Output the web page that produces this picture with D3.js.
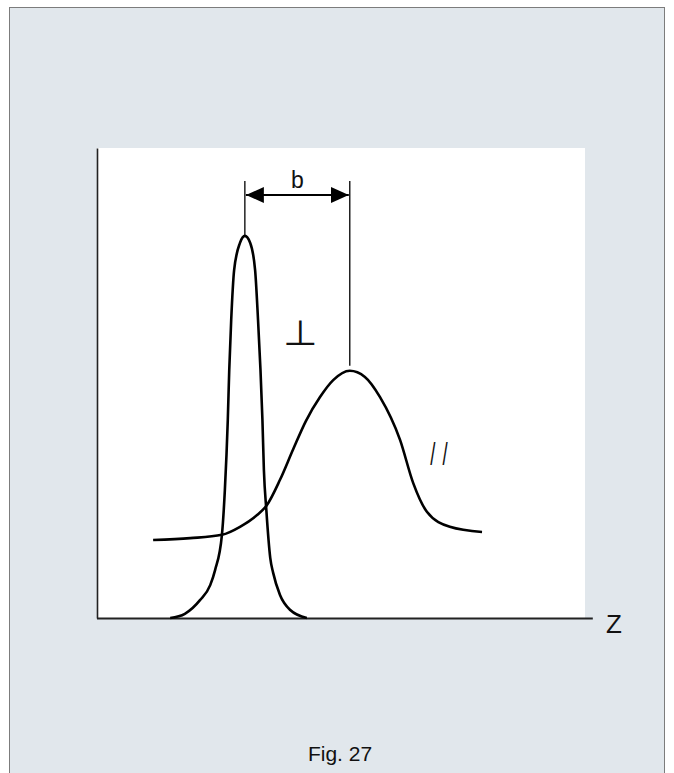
<!DOCTYPE html>
<html>
<head>
<meta charset="utf-8">
<script src="https://cdn.jsdelivr.net/npm/d3@7"></script>
<style>
  body { margin: 0; background: #fff; }
  svg { display: block; }
</style>
</head>
<body>
<div id="chart"></div>
<script>
// curve for the perpendicular orientation (narrow peak), [z, intensity]
const perpCurve = [
  [15.0, 0], [18.0, 0.9], [21.1, 3.8], [23.2, 7.0], [24.2, 10.2], [25.6, 17.7],
  [26.2, 27.2], [26.8, 42.1], [27.1, 52.8], [27.5, 63.4], [28.1, 74.0], [29.3, 79.8],
  [30.3, 81.3], [31.4, 79.8], [32.4, 74.0], [33.0, 63.4], [33.5, 52.8], [33.9, 42.1],
  [34.2, 31.5], [34.7, 23.0], [35.5, 12.8], [36.1, 9.6], [37.5, 4.9], [39.6, 1.7], [43.0, 0],
];

// curve for the parallel orientation (broad peak)
const paraCurve = [
  [11.5, 16.6], [19.1, 17.0], [25.6, 17.7], [29.3, 19.4], [32.8, 21.9], [34.8, 24.0],
  [37.5, 29.4], [40.2, 35.9], [42.8, 41.9], [45.7, 47.0], [48.4, 50.6], [51.8, 52.6],
  [54.9, 51.3], [58.0, 47.0], [62.1, 37.9], [64.8, 28.7], [67.6, 22.6], [72.3, 19.4],
  [78.9, 18.3],
];

const curveLabels = ['⊥', '//'];
const axisLabel = 'Z';
const spacingLabel = 'b';
const caption = 'Fig. 27';

const width = 674;
const height = 773;
const plot = { left: 97, right: 585, top: 148, bottom: 618 };

const svg = d3.select('#chart').append('svg')
  .attr('width', width)
  .attr('height', height)
  .style('font-family', 'Arial, "Liberation Sans", sans-serif');

// grey figure frame
svg.append('rect')
  .attr('x', 9.5).attr('y', 7.5)
  .attr('width', 655).attr('height', 800)
  .attr('fill', '#e1e7ec')
  .attr('stroke', '#7c7c7c');

svg.append('rect')
  .attr('x', plot.left).attr('y', plot.top)
  .attr('width', plot.right - plot.left).attr('height', plot.bottom - plot.top)
  .attr('fill', '#fff');

const x = d3.scaleLinear().domain([0, 100]).range([plot.left, plot.right]);
const y = d3.scaleLinear().domain([0, 100]).range([plot.bottom, plot.top]);

const line = d3.line()
  .x((d) => x(d[0]))
  .y((d) => y(d[1]))
  .curve(d3.curveMonotoneX);

// axes (plain lines, no ticks)
const xAxis = d3.axisBottom(x).tickValues([]).tickSizeOuter(0);
const yAxis = d3.axisLeft(y).tickValues([]).tickSizeOuter(0);
svg.append('g')
  .attr('transform', `translate(0,${y(0)})`)
  .call(xAxis)
  .select('.domain')
  .attr('d', `M${x(0)},0.5H${x(101.6)}`)
  .attr('stroke', '#222')
  .attr('stroke-width', 2.2);
svg.append('g')
  .attr('transform', `translate(${x(0)},0)`)
  .call(yAxis)
  .select('.domain')
  .attr('stroke', '#222')
  .attr('stroke-width', 1.6);

svg.append('text')
  .attr('x', x(104.3)).attr('y', y(-3.2))
  .attr('font-size', 26)
  .attr('fill', '#111')
  .text(axisLabel);

[perpCurve, paraCurve].forEach((c) => {
  svg.append('path')
    .datum(c)
    .attr('d', line)
    .attr('fill', 'none')
    .attr('stroke', '#000')
    .attr('stroke-width', 2.6);
});

// spacing b between the two peaks
const peak1 = perpCurve.reduce((a, b) => (b[1] > a[1] ? b : a));
const peak2 = paraCurve.reduce((a, b) => (b[1] > a[1] ? b : a));
const dimTop = 93;
const dimY = 90;

svg.append('defs').append('marker')
  .attr('id', 'arr')
  .attr('viewBox', '0 0 18 16')
  .attr('refX', 18).attr('refY', 8)
  .attr('markerWidth', 18).attr('markerHeight', 16)
  .attr('markerUnits', 'userSpaceOnUse')
  .attr('orient', 'auto-start-reverse')
  .append('path')
  .attr('d', 'M0,0L18,8L0,16Z')
  .attr('fill', '#000');

svg.append('line')
  .attr('x1', x(peak1[0])).attr('x2', x(peak1[0]))
  .attr('y1', y(dimTop)).attr('y2', y(peak1[1]))
  .attr('stroke', '#000').attr('stroke-width', 1.3);
svg.append('line')
  .attr('x1', x(peak2[0])).attr('x2', x(peak2[0]))
  .attr('y1', y(dimTop)).attr('y2', y(peak2[1]) - 5)
  .attr('stroke', '#000').attr('stroke-width', 1.3);
svg.append('line')
  .attr('x1', x(peak1[0]) + 1).attr('x2', x(peak2[0]) - 1)
  .attr('y1', y(dimY)).attr('y2', y(dimY))
  .attr('stroke', '#000').attr('stroke-width', 2)
  .attr('marker-start', 'url(#arr)')
  .attr('marker-end', 'url(#arr)');

svg.append('text')
  .attr('x', (x(peak1[0]) + x(peak2[0])) / 2).attr('y', y(dimY) - 7)
  .attr('text-anchor', 'middle')
  .attr('font-size', 23)
  .attr('fill', '#111')
  .text(spacingLabel);

// orientation labels
svg.append('text')
  .attr('transform', `translate(${x(41.7)},${y(58.1)}) scale(1.25,1.1)`)
  .attr('text-anchor', 'middle')
  .attr('font-size', 32)
  .attr('font-weight', 300)
  .attr('fill', '#111')
  .text(curveLabels[0]);
svg.append('text')
  .attr('transform', `translate(${x(70.8)},${y(32.6)}) scale(0.6,1)`)
  .attr('text-anchor', 'middle')
  .attr('font-size', 31)
  .attr('letter-spacing', 12)
  .attr('fill', '#111')
  .text(curveLabels[1]);

svg.append('text')
  .attr('x', 340).attr('y', 761)
  .attr('text-anchor', 'middle')
  .attr('font-size', 21)
  .attr('fill', '#111')
  .text(caption);
</script>
</body>
</html>
